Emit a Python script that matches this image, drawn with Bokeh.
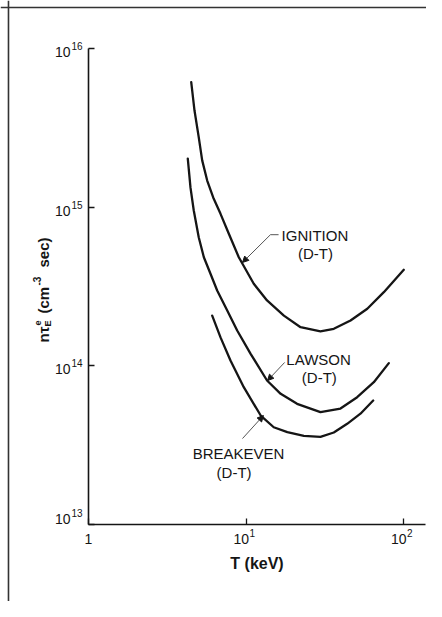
from bokeh.plotting import figure
from bokeh.models import Label, Arrow, NormalHead, FixedTicker, Span
from bokeh.core.properties import value
from bokeh.embed import file_html
from bokeh.resources import INLINE

# ---- data ----
ign_T = [4.49, 4.71, 5.01, 5.27, 5.67, 6.19, 6.89, 7.78, 9.0, 11.2, 13.6, 17.4,
         22.2, 29.7, 36.1, 46.1, 58.9, 75.0, 100.4]
ign_n = [6.12e15, 4.06e15, 2.76e15, 1.97e15, 1.47e15, 1.15e15, 9.07e14, 6.79e14,
         4.83e14, 3.29e14, 2.58e14, 2.07e14, 1.75e14, 1.65e14, 1.71e14, 1.93e14,
         2.29e14, 2.91e14, 4.03e14]

law_T = [4.27, 4.44, 4.66, 5.01, 5.40, 5.95, 6.56, 7.60, 8.79, 10.7, 13.6, 16.6,
         21.1, 29.7, 39.8, 50.8, 64.8, 80.7]
law_n = [2.02e15, 1.33e15, 9.52e14, 6.46e14, 4.83e14, 3.80e14, 2.98e14, 2.23e14,
         1.67e14, 1.19e14, 8.08e13, 6.66e13, 5.76e13, 5.10e13, 5.38e13, 6.34e13,
         7.88e13, 1.04e14]

brk_T = [6.10, 6.89, 7.97, 9.68, 12.4, 15.0, 18.3, 23.3, 29.7, 36.1, 43.9, 53.3, 64.2]
brk_n = [2.07e14, 1.51e14, 1.08e14, 7.33e13, 4.86e13, 4.10e13, 3.82e13, 3.62e13,
         3.57e13, 3.80e13, 4.31e13, 4.99e13, 6.04e13]

x_ticks = [1, 10, 100]
x_tick_base = ["1", "10", "10"]
x_tick_exp = ["", "1", "2"]
y_ticks = [1e13, 1e14, 1e15, 1e16]
y_tick_base = ["10", "10", "10", "10"]
y_tick_exp = ["13", "14", "15", "16"]

label_text = ["IGNITION", "(D-T)", "LAWSON", "(D-T)", "BREAKEVEN", "(D-T)"]
label_T = [27.4, 27.6, 28.9, 29.2, 8.96, 8.4]
label_n = [6.6e14, 5.1e14, 1.1e14, 8.4e13, 2.8e13, 2.13e13]

FONT = "Liberation Sans"
INK = "#151515"

X_RANGE = (10 ** -0.5587, 10 ** 2.146)
Y_RANGE = (10 ** 12.5148, 10 ** 16.3018)
SHEET_LEFT = 10 ** -0.508
SHEET_TOP = 10 ** 16.2577

p = figure(width=426, height=601, x_axis_type="log", y_axis_type="log",
           x_range=X_RANGE, y_range=Y_RANGE,
           output_backend="svg", toolbar_location=None,
           min_border_left=0, min_border_right=0,
           min_border_top=0, min_border_bottom=0)
p.outline_line_color = None
p.grid.visible = False
p.background_fill_color = "white"
p.border_fill_color = "white"

p.xaxis.fixed_location = y_ticks[0]
p.yaxis.fixed_location = x_ticks[0]
p.xaxis.bounds = (x_ticks[0], 10 ** 2.14)
p.yaxis.bounds = (y_ticks[0], y_ticks[-1])
p.xaxis.ticker = FixedTicker(ticks=x_ticks, minor_ticks=[])
p.yaxis.ticker = FixedTicker(ticks=y_ticks, minor_ticks=[])
for ax in (p.xaxis[0], p.yaxis[0]):
    ax.axis_line_color = INK
    ax.axis_line_width = 1.6
    ax.major_tick_line_color = INK
    ax.major_tick_line_width = 1.3
    ax.major_tick_in = 6
    ax.major_tick_out = 0
    ax.minor_tick_in = 0
    ax.minor_tick_out = 0
    ax.major_label_text_alpha = 0
    ax.major_label_text_font_size = "1px"
    ax.major_label_standoff = 0

p.xaxis.axis_label = "T (keV)"
p.xaxis.axis_label_text_font = FONT
p.xaxis.axis_label_text_font_style = "bold"
p.xaxis.axis_label_text_font_size = "16px"
p.xaxis.axis_label_text_color = INK
p.xaxis.axis_label_standoff = 30

# page border (left and top edges of the sheet)
p.add_layout(Span(location=SHEET_LEFT, dimension="height", line_color="#333", line_width=1.6))
p.add_layout(Span(location=SHEET_TOP, dimension="width", line_color="#333", line_width=1.6))

# curves
for T, n in ((ign_T, ign_n), (law_T, law_n), (brk_T, brk_n)):
    p.line(T, n, line_width=2.3, line_color=INK, line_cap="round", line_join="round")

# curve labels
p.text(x=label_T, y=label_n, text=label_text, text_font=value(FONT),
       text_font_size="15px", text_align="center", text_baseline="middle",
       text_color=INK)

# leaders
p.line([16.1, 14.3], [6.7e14, 6.7e14], line_color="#555", line_width=1)
head = dict(size=6, fill_color=INK, line_color=INK)
p.add_layout(Arrow(end=NormalHead(**head), x_start=14.3, y_start=6.7e14,
                   x_end=9.5, y_end=4.48e14, line_color="#555", line_width=1))
p.add_layout(Arrow(end=NormalHead(**head), x_start=17.6, y_start=1.05e14,
                   x_end=13.7, y_end=8.07e13, line_color="#555", line_width=1))
p.add_layout(Arrow(end=NormalHead(**head), x_start=9.5, y_start=3.48e13,
                   x_end=12.9, y_end=4.86e13, line_color="#555", line_width=1))

# tick labels
tick_style = dict(text_font=FONT, text_color=INK, text_baseline="middle")
for t, b, e in zip(x_ticks, x_tick_base, x_tick_exp):
    if e:
        p.add_layout(Label(x=t, y=y_ticks[0], text=b, x_offset=3, y_offset=-15,
                           text_align="right", text_font_size="14px", **tick_style))
        p.add_layout(Label(x=t, y=y_ticks[0], text=e, x_offset=3.5, y_offset=-9,
                           text_align="left", text_font_size="10px", **tick_style))
    else:
        p.add_layout(Label(x=t, y=y_ticks[0], text=b, y_offset=-15,
                           text_align="center", text_font_size="14px", **tick_style))
for t, b, e in zip(y_ticks, y_tick_base, y_tick_exp):
    dy = 5 if t == y_ticks[0] else -3.5
    p.add_layout(Label(x=x_ticks[0], y=t, text=b, x_offset=-18, y_offset=dy,
                       text_align="right", text_font_size="14px", **tick_style))
    p.add_layout(Label(x=x_ticks[0], y=t, text=e, x_offset=-17, y_offset=dy + 6,
                       text_align="left", text_font_size="10px", **tick_style))

# y axis title: n tau_E^e (cm^-3 sec)
ytitle = dict(x_units="screen", y_units="screen", angle=1.5708,
              text_font=FONT, text_font_style="bold", text_color=INK,
              text_align="left", text_baseline="alphabetic")
p.add_layout(Label(x=43, y=259, text="nτ", text_font_size="15px", **ytitle))
p.add_layout(Label(x=47, y=275, text="E", text_font_size="9px", **ytitle))
p.add_layout(Label(x=37, y=276, text="e", text_font_size="9px", **ytitle))
p.add_layout(Label(x=43, y=288, text="(cm", text_font_size="15px", **ytitle))
p.add_layout(Label(x=37, y=316, text="-3", text_font_size="10px", **ytitle))
p.add_layout(Label(x=43, y=334, text="sec)", text_font_size="15px", **ytitle))

open("out.html", "w").write(file_html(p, INLINE))
